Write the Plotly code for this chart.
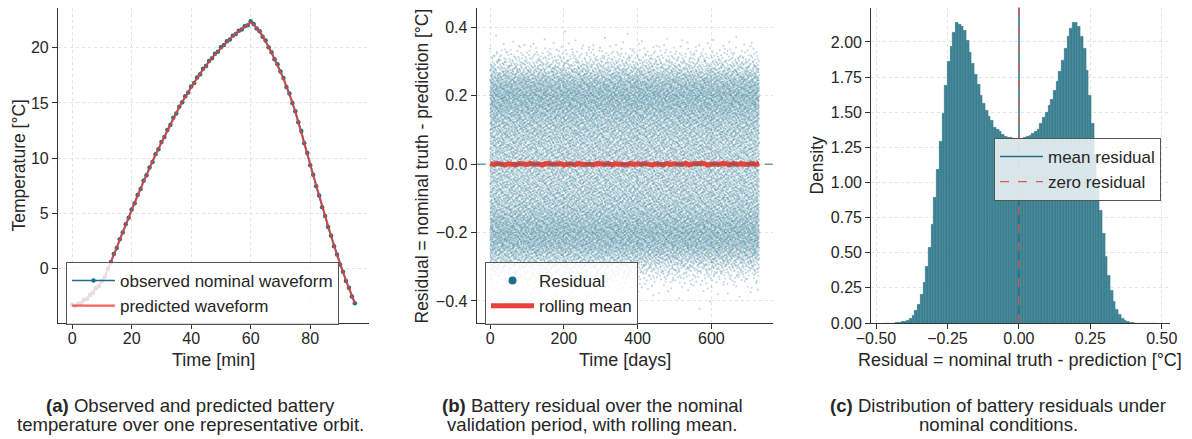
import numpy as np
import plotly.graph_objects as go

# ---------------- data ----------------
# (a) one representative orbit, minutes
T_MIN = list(range(96))
OBSERVED = [-3.3, -3.4, -3.2, -3.15, -2.85, -2.75, -2.4, -2.2, -1.8, -1.6,
            -1.15, -0.75, -0.05, 0.55, 1.3, 1.85, 2.65, 3.25, 4.0, 4.6,
            5.35, 5.9, 6.65, 7.2, 7.95, 8.45, 9.15, 9.65, 10.35, 10.8,
            11.45, 11.9, 12.55, 13.0, 13.65, 14.05, 14.65, 15.05, 15.6, 15.95,
            16.5, 16.8, 17.3, 17.6, 18.1, 18.35, 18.8, 19.05, 19.45, 19.65,
            20.05, 20.25, 20.6, 20.75, 21.1, 21.25, 21.55, 21.65, 21.95, 22.05,
            22.4, 22.15, 21.75, 21.5, 21.0, 20.65, 20.05, 19.6, 18.95, 18.5,
            17.85, 17.25, 16.45, 15.85, 15.0, 14.25, 13.25, 12.45, 11.35, 10.45,
            9.35, 8.5, 7.45, 6.6, 5.55, 4.75, 3.75, 2.95, 2.0, 1.25,
            0.35, -0.3, -1.15, -1.75, -2.55, -3.15]
PREDICTED = [-3.4, -3.35, -3.25, -3.1, -2.9, -2.7, -2.45, -2.15, -1.85, -1.55,
             -1.2, -0.7, -0.1, 0.6, 1.25, 1.9, 2.6, 3.3, 3.95, 4.65,
             5.3, 5.95, 6.6, 7.25, 7.9, 8.5, 9.1, 9.7, 10.3, 10.85,
             11.4, 11.95, 12.5, 13.05, 13.6, 14.1, 14.6, 15.1, 15.55, 16.0,
             16.45, 16.85, 17.25, 17.65, 18.05, 18.4, 18.75, 19.1, 19.4, 19.7,
             20.0, 20.3, 20.55, 20.8, 21.05, 21.3, 21.5, 21.7, 21.9, 22.1,
             22.3, 22.1, 21.8, 21.45, 21.05, 20.6, 20.1, 19.55, 19.0, 18.45,
             17.9, 17.2, 16.5, 15.8, 15.05, 14.2, 13.3, 12.4, 11.4, 10.4,
             9.4, 8.45, 7.5, 6.55, 5.6, 4.7, 3.8, 2.9, 2.05, 1.2,
             0.4, -0.35, -1.1, -1.8, -2.5, -3.2]

# (c) residual histogram (density per bin), 100 bins
HIST_START = -0.469
HIST_BIN = 0.009505
HIST_DENSITY = [0.0, 0.0, 0.0, 0.0, 0.002, 0.004, 0.008, 0.012, 0.02, 0.035,
                0.055, 0.09, 0.13, 0.20, 0.29, 0.40, 0.54, 0.70, 0.89, 1.09,
                1.29, 1.49, 1.69, 1.86, 1.97, 2.07, 2.135, 2.125, 2.11, 2.08,
                2.01, 1.925, 1.845, 1.77, 1.70, 1.62, 1.56, 1.51, 1.47, 1.44,
                1.39, 1.38, 1.36, 1.34, 1.33, 1.32, 1.32, 1.31, 1.31, 1.31,
                1.31, 1.32, 1.33, 1.335, 1.345, 1.36, 1.38, 1.42, 1.46, 1.50,
                1.545, 1.59, 1.655, 1.72, 1.79, 1.865, 1.955, 2.04, 2.095, 2.135,
                2.135, 2.11, 2.04, 1.95, 1.80, 1.62, 1.42, 1.20, 1.00, 0.80,
                0.64, 0.47, 0.34, 0.23, 0.155, 0.097, 0.057, 0.03, 0.015, 0.008,
                0.004, 0.002, 0.0, 0.0, 0.0, 0.0, 0.0, 0.0, 0.0, 0.0]
MEAN_RESIDUAL = 0.0005

# (b) validation period
DAYS_SPAN = 730
N_RESID = 24000
ROLL_MEAN = [0.002, -0.001, 0.002, 0.000, -0.002, 0.001, 0.000, -0.002, 0.002, 0.001,
             -0.001, 0.002, -0.001, 0.001, -0.002, 0.001, 0.002, -0.001, 0.000, 0.002,
             -0.002, 0.001, 0.001, -0.002, 0.002, -0.001, 0.001, 0.000, -0.002, 0.002,
             0.001, -0.001, 0.002, -0.002, 0.001, 0.000, 0.001, -0.002, 0.002, -0.001,
             0.001, -0.001, 0.002, 0.000, -0.002, 0.001, 0.001, -0.002, 0.002, -0.001,
             0.001, 0.000, -0.001, 0.002, -0.002, 0.001, 0.001, -0.001, 0.002, -0.002,
             0.000, 0.001, -0.001, 0.002, 0.001, -0.002, 0.002, -0.001, 0.001, 0.000,
             -0.001, 0.002, -0.001, 0.001]

# ---------------- derived ----------------
dens = np.array(HIST_DENSITY)
edges = HIST_START + HIST_BIN * np.arange(len(dens) + 1)
centers = 0.5 * (edges[:-1] + edges[1:])
# residual cloud for (b): deterministic quantiles of the (c) distribution (Halton bases 2 / 3)


def halton(n, base):
    out = np.zeros(n)
    for k in range(n):
        f, r, i = 1.0, 0.0, k + 1
        while i > 0:
            f /= base
            r += f * (i % base)
            i //= base
        out[k] = r
    return out


cdf = np.concatenate([[0.0], np.cumsum(dens)])
cdf = cdf / cdf[-1]
u = halton(N_RESID, 3)
v = halton(N_RESID, 2)
resid = np.interp(u, cdf, edges)
resid_days = v * DAYS_SPAN
roll_days = np.linspace(0, DAYS_SPAN, len(ROLL_MEAN))

# ---------------- style ----------------
W, H = 1192, 439
FONT = "Liberation Sans, Arial, sans-serif"
INK = "#262626"
TEAL = "#1f6f8b"
RED = "#e8413a"


def px(x):
    return x / W


def py(y):
    return 1 - y / H


fig = go.Figure()

# (a)
fig.add_trace(go.Scatter(x=T_MIN, y=OBSERVED, mode="lines+markers",
                         line=dict(color=TEAL, width=1.6),
                         marker=dict(size=4.5, color=TEAL),
                         name="observed nominal waveform", xaxis="x", yaxis="y", legend="legend"))
fig.add_trace(go.Scatter(x=T_MIN, y=PREDICTED, mode="lines",
                         line=dict(color="rgba(232,65,58,0.8)", width=2.2),
                         name="predicted waveform", xaxis="x", yaxis="y", legend="legend"))

# (b)
fig.add_trace(go.Scatter(x=resid_days, y=resid, mode="markers",
                         marker=dict(size=2.1, color="rgba(31,111,139,0.28)", line=dict(width=0)),
                         showlegend=False, xaxis="x2", yaxis="y2", hoverinfo="skip"))
fig.add_trace(go.Scatter(x=[None], y=[None], mode="markers", marker=dict(size=8, color=TEAL),
                         name="Residual", xaxis="x2", yaxis="y2", legend="legend2"))
fig.add_trace(go.Scatter(x=roll_days, y=ROLL_MEAN, mode="lines",
                         line=dict(color=RED, width=5),
                         name="rolling mean", xaxis="x2", yaxis="y2", legend="legend2"))

# (c)
fig.add_trace(go.Bar(x=centers, y=dens, width=HIST_BIN,
                     marker=dict(color="#408494", line=dict(color="#2a6f80", width=0.3)),
                     showlegend=False, xaxis="x3", yaxis="y3", hoverinfo="skip"))
fig.add_trace(go.Scatter(x=[None], y=[None], mode="lines", line=dict(color=TEAL, width=1.5),
                         name="mean residual", xaxis="x3", yaxis="y3", legend="legend3"))
fig.add_trace(go.Scatter(x=[None], y=[None], mode="lines",
                         line=dict(color="#e05a50", width=1.2, dash="dash"),
                         name="zero residual", xaxis="x3", yaxis="y3", legend="legend3"))

fig.add_shape(type="line", xref="x2 domain", yref="y2", x0=0, x1=1, y0=0, y1=0,
              line=dict(color=TEAL, width=1, dash="dash"), layer="above")
fig.add_shape(type="line", xref="x3", yref="y3 domain", x0=MEAN_RESIDUAL, x1=MEAN_RESIDUAL, y0=0, y1=1,
              line=dict(color=TEAL, width=1.5), layer="above")
fig.add_shape(type="line", xref="x3", yref="y3 domain", x0=0, x1=0, y0=0, y1=1,
              line=dict(color="#e05a50", width=1.2, dash="dash"), layer="above")


def axis(domain, rng, tickvals, ticktext, anchor, standoff=0):
    return dict(domain=domain, range=rng, tickvals=tickvals, ticktext=ticktext, anchor=anchor,
                showline=True, linecolor="#333333", linewidth=1.2, mirror=False,
                ticks="outside", ticklen=5, tickwidth=1, tickcolor="#333333",
                showgrid=True, gridcolor="#e2e2e2", gridwidth=0.8, griddash="dot",
                zeroline=False, automargin=False, ticklabelstandoff=standoff,
                tickfont=dict(size=16, color=INK, family=FONT))


ydom = [py(323), py(7.5)]
fig.update_layout(
    xaxis=axis([px(58), px(369)], [-4.75, 99.75], [0, 20, 40, 60, 80], ["0", "20", "40", "60", "80"], "y", -4),
    yaxis=axis(ydom, [-4.95, 23.65], [0, 5, 10, 15, 20], ["0", "5", "10", "15", "20"], "x"),
    xaxis2=axis([px(476.7), px(772.7)], [-36.5, 766.5], [0, 200, 400, 600], ["0", "200", "400", "600"], "y2", -4),
    yaxis2=axis(ydom, [-0.4644, 0.458], [-0.4, -0.2, 0.0, 0.2, 0.4],
                ["\u22120.4", "\u22120.2", "0.0", "0.2", "0.4"], "x2"),
    xaxis3=axis([px(871.3), px(1170)], [-0.5165, 0.529], [-0.5, -0.25, 0.0, 0.25, 0.5],
                ["\u22120.50", "\u22120.25", "0.00", "0.25", "0.50"], "y3", -4),
    yaxis3=axis(ydom, [0, 2.245], [0, 0.25, 0.5, 0.75, 1.0, 1.25, 1.5, 1.75, 2.0],
                ["0.00", "0.25", "0.50", "0.75", "1.00", "1.25", "1.50", "1.75", "2.00"], "x3"),
)

leg = dict(bgcolor="rgba(255,255,255,0.8)", bordercolor="#555555", borderwidth=1,
           font=dict(size=17, color=INK, family=FONT), xanchor="left", yanchor="top",
           itemwidth=43, tracegroupgap=0)
fig.update_layout(
    legend=dict(leg, x=px(66), y=py(262)),
    legend2=dict(leg, x=px(485), y=py(262)),
    legend3=dict(leg, x=px(994), y=py(138)),
)

ann = []


def text(s, x, y, size, angle=0):
    ann.append(dict(text=s, x=px(x), y=py(y), xref="paper", yref="paper", showarrow=False,
                    xanchor="center", yanchor="middle", textangle=angle,
                    font=dict(size=size, color=INK, family=FONT)))


text("Temperature [°C]", 18.5, 166, 17.5, -90)
text("Time [min]", 213, 360, 18)
text("Residual = nominal truth - prediction [°C]", 421.5, 166, 17.5, -90)
text("Time [days]", 625, 360, 18)
text("Density", 816.5, 165, 17.5, -90)
text("Residual = nominal truth - prediction [°C]", 1020, 360, 18)

text("<b>(a)</b> Observed and predicted battery", 190, 405, 18.6)
text("temperature over one representative orbit.", 190, 424, 18.6)
text("<b>(b)</b> Battery residual over the nominal", 592, 405, 18.6)
text("validation period, with rolling mean.", 592, 424, 18.6)
text("<b>(c)</b> Distribution of battery residuals under", 998, 405, 18.6)
text("nominal conditions.", 998, 424, 18.6)

fig.update_layout(annotations=ann, width=W, height=H,
                  margin=dict(l=0, r=0, t=0, b=0, pad=0, autoexpand=False),
                  paper_bgcolor="white", plot_bgcolor="white", bargap=0,
                  font=dict(family=FONT, color=INK))

fig.write_html("out.html")
